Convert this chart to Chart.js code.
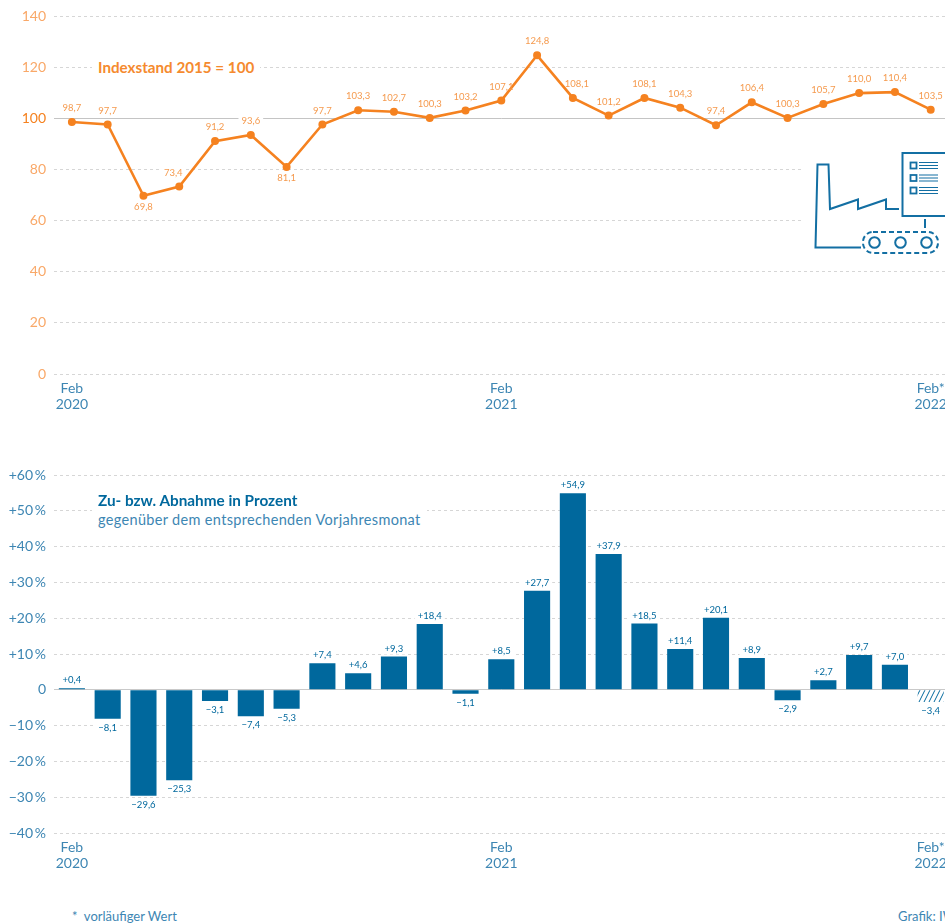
<!DOCTYPE html>
<html><head><meta charset="utf-8">
<script src="https://cdn.jsdelivr.net/npm/chart.js@4/dist/chart.umd.min.js"></script>
<style>
html,body{margin:0;padding:0;background:#fff;width:945px;height:924px;overflow:hidden}
#wrap{position:relative;width:945px;height:924px;overflow:hidden;font-family:"Lato",sans-serif}
canvas{position:absolute;left:0}
.t{position:absolute;white-space:nowrap}
</style></head><body>
<div id="wrap">
<canvas id="c1" style="top:0;width:960px;height:430px"></canvas>
<canvas id="c2" style="top:460px;width:960px;height:420px"></canvas>
<div class="t" style="left:92px;top:58px;font-size:15.2px;font-weight:700;color:#F58A2E;background:#fff;padding:0 6px">Indexstand 2015 = 100</div>
<div class="t" style="left:92px;top:491px;font-size:15.3px;font-weight:700;color:#00689D;padding:0 6px">Zu- bzw. Abnahme in Prozent</div>
<div class="t" style="left:92px;top:509px;line-height:21px;font-size:14.5px;color:#3D86B3;letter-spacing:.33px;background:#fff;padding:0 6px">gegenüber dem entsprechenden Vorjahresmonat</div>
<div class="t" style="left:72px;top:908px;font-size:13px;color:#3D86B3">*&nbsp; vorläufiger Wert</div>
<div class="t" style="left:898px;top:908px;font-size:13px;color:#3D86B3">Grafik: IW</div>
</div>
<script>
const months=["Feb","Mrz","Apr","Mai","Jun","Jul","Aug","Sep","Okt","Nov","Dez","Jan","Feb","Mrz","Apr","Mai","Jun","Jul","Aug","Sep","Okt","Nov","Dez","Jan","Feb*"];
const years=[2020,2020,2020,2020,2020,2020,2020,2020,2020,2020,2020,2021,2021,2021,2021,2021,2021,2021,2021,2021,2021,2021,2021,2022,2022];
const indexValues=[98.7,97.7,69.8,73.4,91.2,93.6,81.1,97.7,103.3,102.7,100.3,103.2,107.1,124.8,108.1,101.2,108.1,104.3,97.4,106.4,100.3,105.7,110.0,110.4,103.5];
const changeValues=[0.4,-8.1,-29.6,-25.3,-3.1,-7.4,-5.3,7.4,4.6,9.3,18.4,-1.1,8.5,27.7,54.9,37.9,18.5,11.4,20.1,8.9,-2.9,2.7,9.7,7.0,-3.4];
const tickedPoints=[0,12,24];
const indexLabelBelow=[2,6];
const FONT='"Lato",sans-serif', ORANGE='#F58220', BLUE='#00689D', LBLUE='#3D86B3', LORANGE='#F9A868', GRID='#D6D6D6';
const de=(v,d=1)=>v.toFixed(d).replace('.',',');
const signed=v=>(v>0?'+':'\u2212')+de(Math.abs(v));
const labels=months.map((m,i)=>tickedPoints.includes(i)?[m,String(years[i])]:'');

function fixY(w){return s=>{s.width=w;s.paddingTop=0;s.paddingBottom=0;}}
function fixX(h){return s=>{s.height=h;s.paddingLeft=0;s.paddingRight=0;}}

function eachLabel(chart,o,fn){
  const ctx=chart.ctx,meta=chart.getDatasetMeta(0),vals=chart.data.datasets[0].data;
  ctx.save();ctx.font=o.font;ctx.textAlign='center';ctx.textBaseline='middle';
  meta.data.forEach((el,i)=>{
    const [dx,dy]=o.offset(i,vals[i]);
    const txt=o.text(vals[i]);
    fn(ctx,txt,el.x+dx,el.y+dy);
  });
  ctx.restore();
}
const labelPlugin={
  id:'vlabels',
  beforeDatasetsDraw(chart,_,o){
    eachLabel(chart,o,(ctx,txt,x,y)=>{
      const w=ctx.measureText(txt).width;
      ctx.fillStyle='#fff';ctx.fillRect(x-w/2-3,y-6,w+6,12);
    });
  },
  afterDatasetsDraw(chart,_,o){
    eachLabel(chart,o,(ctx,txt,x,y)=>{ctx.fillStyle=o.color;ctx.fillText(txt,x,y);});
  }
};
/* decorative factory pictogram (not data) */
const iconPlugin={
  id:'icon',
  afterDraw(chart){
    const c=chart.ctx;c.save();
    c.fillStyle='#fff';c.fillRect(803,140,160,125);
    c.strokeStyle='#136FA3';c.lineWidth=2;c.lineJoin='miter';
    c.beginPath();
    c.moveTo(861,247.5);c.lineTo(815.5,247.5);c.lineTo(817.5,164.5);c.lineTo(828.5,164.5);c.lineTo(830,209);c.lineTo(858,199.5);c.lineTo(858,209);c.lineTo(886,199.5);c.lineTo(886,209);c.lineTo(899,209);c.stroke();
    c.strokeRect(902.5,153,60,63);
    [165.5,178,190.5].forEach(y=>{
      c.lineWidth=1.8;c.strokeRect(910.5,y-3,6,6);
      c.beginPath();[-3,0,3].forEach(d=>{c.moveTo(919,y+d);c.lineTo(938,y+d)});c.lineWidth=1.1;c.stroke();
    });
    c.lineWidth=2;
    c.beginPath();c.moveTo(925,219);c.lineTo(925,228);c.stroke();
    c.setLineDash([5,3]);c.beginPath();c.roundRect(863,232,75,21,10);c.stroke();c.setLineDash([]);
    [874.5,900.5,926.5].forEach(x=>{c.beginPath();c.arc(x,242.5,5.3,0,7);c.stroke();});
    c.restore();
  }
};

new Chart(document.getElementById('c1'),{
  type:'line',
  data:{labels,datasets:[{data:indexValues,borderColor:ORANGE,backgroundColor:ORANGE,borderWidth:2.6,pointRadius:2.7,pointHoverRadius:2.7,tension:0,clip:false}]},
  options:{responsive:false,animation:false,
    layout:{padding:{top:16.5,right:11.4,left:0,bottom:0}},
    plugins:{legend:{display:false},tooltip:{enabled:false},
      vlabels:{font:'9.5px '+FONT,color:'#F59A4E',text:v=>de(v),
        offset:i=>indexLabelBelow.includes(i)?[0,11]:(i===3?[-6,-14]:(i===14?[4,-14]:[0,-14]))}},
    scales:{
      x:{offset:true,afterFit:fixX(56),grid:{display:false},border:{display:false},
        ticks:{autoSkip:false,maxRotation:0,padding:-2,color:LBLUE,font:{family:FONT,size:14,lineHeight:1.17}}},
      y:{afterFit:fixY(54),min:0,max:140,
        border:{display:false,dash:c=>c.tick.value===100?[]:[3,3]},
        grid:{drawTicks:false,color:c=>c.tick.value===100?'#C4C4C4':GRID,lineWidth:1},
        ticks:{stepSize:20,padding:8,color:c=>c.tick.value===100?ORANGE:LORANGE,font:{family:FONT,size:14}}}
    }
  },
  plugins:[labelPlugin,iconPlugin]
});

function hatch(){
  const p=document.createElement('canvas');p.width=5;p.height=10;
  const c=p.getContext('2d');c.strokeStyle=BLUE;c.lineWidth=1;
  c.beginPath();c.moveTo(5.5,-1);c.lineTo(-0.5,11);c.moveTo(10.5,-1);c.lineTo(4.5,11);c.moveTo(0.5,-1);c.lineTo(-5.5,11);c.stroke();
  return document.getElementById('c2').getContext('2d').createPattern(p,'repeat');
}
new Chart(document.getElementById('c2'),{
  type:'bar',
  data:{labels,datasets:[{data:changeValues,barPercentage:0.73,categoryPercentage:1,
    backgroundColor:changeValues.map((v,i)=>i===changeValues.length-1?hatch():BLUE)}]},
  options:{responsive:false,animation:false,
    layout:{padding:{top:15,right:11.4,left:0,bottom:0}},
    plugins:{legend:{display:false},tooltip:{enabled:false},
      vlabels:{font:'9.5px '+FONT,color:'#00689D',text:signed,
        offset:(i,v)=>[0,v>=0?-8:9]}},
    scales:{
      x:{afterFit:fixX(47),grid:{display:false},border:{display:false},
        ticks:{autoSkip:false,maxRotation:0,padding:-2,color:LBLUE,font:{family:FONT,size:14,lineHeight:1.17}}},
      y:{afterFit:fixY(54),min:-40,max:60,
        border:{display:false,dash:c=>c.tick.value===0?[]:[3,3]},
        grid:{drawTicks:false,color:c=>c.tick.value===0?'#C9C9C9':GRID,lineWidth:1},
        ticks:{stepSize:10,padding:8,color:LBLUE,font:{family:FONT,size:14},
          callback:v=>v===0?'0':(v>0?'+':'\u2212')+Math.abs(v)+'\u2009%'}}
    }
  },
  plugins:[labelPlugin]
});
</script>
</body></html>
